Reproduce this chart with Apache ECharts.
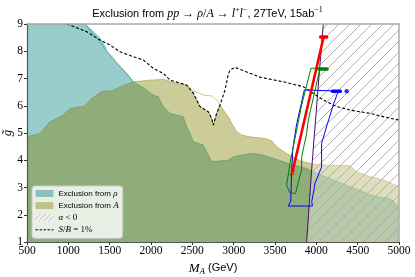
<!DOCTYPE html>
<html><head><meta charset="utf-8">
<script src="https://cdn.jsdelivr.net/npm/echarts@6/dist/echarts.min.js"></script>
<style>html,body{margin:0;padding:0;background:#fff}#c{width:415px;height:277px}</style>
</head><body><div id="c"></div>
<script>
// ---- data ----
const xTicks = [500, 1000, 1500, 2000, 2500, 3000, 3500, 4000, 4500, 5000];
const yTicks = [1, 2, 3, 4, 5, 6, 7, 8, 9];
const rhoExcl = [[500,9],[1200,9],[1282,8.78],[1383,8.48],[1443,8.17],[1464,7.98],[1504,7.86],[1585,7.56],[1706,7.19],[1786,6.88],[1907,6.66],[2028,6.39],[2089,6.33],[2149,5.97],[2230,5.72],[2391,5.6],[2432,5.23],[2472,4.99],[2512,4.68],[2633,4.56],[2674,4.31],[2734,3.95],[2935,4.0],[2996,4.13],[3197,4.25],[3238,4.25],[3358,4.19],[3479,4.07],[3600,3.95],[3681,3.86],[3883,3.70],[4004,3.52],[4205,3.28],[4407,3.03],[4609,2.79],[4730,2.66],[4891,2.6],[5000,2.3]];
const rhoEdge = [[1200,9],[1443,8.1],[1786,6.88]];
const aExcl = [[500,4.86],[657,4.99],[778,5.41],[940,5.66],[1020,5.9],[1201,5.99],[1282,6.27],[1403,6.52],[1524,6.55],[1650,6.72],[1786,6.88],[1988,6.94],[2149,6.97],[2311,6.82],[2432,6.76],[2512,6.46],[2593,5.97],[2693,5.78],[2734,5.54],[2754,5.29],[2794,5.72],[2835,6.03],[2875,5.84],[2935,5.6],[2976,5.36],[3036,5.05],[3097,4.93],[3197,4.86],[3379,4.8],[3460,4.72],[3520,4.5],[3641,4.25],[3802,3.98],[3923,3.89],[4044,3.83],[4407,3.80],[4488,3.58],[4649,3.40],[4810,3.28],[5000,3.03]];
const aEdge = [[2432,6.76],[2492,6.58],[2633,6.39],[2734,6.36],[2814,6.15],[2835,6.03]];
const sbOnePct = [[980,9],[1222,8.72],[1383,8.41],[1504,8.23],[1625,7.98],[1786,7.8],[1907,7.68],[2028,7.37],[2149,7.19],[2230,6.94],[2432,6.76],[2512,6.46],[2593,5.97],[2693,5.78],[2734,5.54],[2754,5.29],[2794,5.72],[2835,6.03],[2895,6.58],[2935,7.15],[2956,7.31],[3016,7.41],[3197,7.19],[3318,7.05],[3600,6.88],[3842,6.70],[4084,6.21],[4246,5.97],[4407,5.84],[4649,5.72],[4891,5.54],[5000,5.48]];
const alphaZero = [[3883,1],[3905,2],[3928,3],[3952,4],[3978,5],[4004,6],[4030,7],[4057,8],[4084,9]];
const alphaNegTop = [[5000,9]];
const blueContour = [[3855,6.58],[4266,6.54],[4205,6.03],[4130,5.3],[4064,4.62],[4064,3.76],[3984,3.15],[3964,2.79],[3944,2.48],[3952,2.32],[3661,2.32],[3690,2.5],[3700,3.5],[3715,4.4],[3760,5.3],[3855,6.58]];
const greenContour = [[3935,7.38],[4044,7.37],[3944,6.03],[3903,5.48],[3883,4.99],[3823,4.13],[3823,3.64],[3782,3.21],[3750,2.79],[3681,2.79],[3641,3.09],[3681,3.89],[3823,6.03],[3935,7.38]];
const redBand = [[3710,3.55],[4088,8.52]];
const redTip = [[3673,3.46],[3722,3.46],[3730,3.64],[3673,3.46]];
const redMarks = [[4052,8.52],[4125,8.52]];
const greenMarks = [[4030,7.35],[4130,7.35]];
const blueMarks = [[4195,6.53],[4290,6.53]];
const blueDot = [[4367,6.53]];

// ---- styling helpers ----
function hatch(w, h, step, color, bg, lw){
  const c = document.createElement('canvas'); c.width = w; c.height = h;
  const g = c.getContext('2d');
  if (bg){ g.fillStyle = bg; g.fillRect(0,0,w,h); }
  g.strokeStyle = color; g.lineWidth = lw;
  g.beginPath();
  for (let k = -h; k < w + h; k += step){ g.moveTo(k, h); g.lineTo(k + h, 0); }
  g.stroke();
  return c;
}
const TEAL = 'rgba(0,128,128,0.4)';
const OLIVE = 'rgba(128,128,0,0.4)';
const plotHatch = {image: hatch(11, 11, 11, '#a8a8a8', 'rgba(255,255,255,0.35)', 0.9), repeat: 'repeat'};
const legHatch = {image: hatch(5, 5, 5, '#b0b0b0', 'rgba(255,255,255,0.4)', 1), repeat: 'repeat'};
const serif = 'Liberation Serif';
const sans = 'Liberation Sans';

const chart = echarts.init(document.getElementById('c'), null, {renderer: 'canvas'});

function lineS(name, data, color, width, extra){
  return Object.assign({name, type:'line', data, symbol:'none', showSymbol:false, silent:true, animation:false,
    color, lineStyle:{color, width}}, extra||{});
}

const legendText = {
  rho: '{t|Exclusion from }{m|ρ}',
  A: '{t|Exclusion from }{m|A}',
  neg: '{m|α}{r| < 0}',
  sb: '{m|S}{r|/}{m|B}{r| = 1%}'
};

chart.setOption({
  animation: false,
  backgroundColor: '#fff',
  title: {
    text: '{s|Exclusion from }{m|pp}{r| → }{m|ρ}{r|/}{m|A}{r| → }{m|l}{sup|+}{m|l}{sup|−}{s|, 27TeV, 15ab}{sup|−1}',
    left: 'center', top: 1,
    textStyle: {
      fontWeight: 'normal',
      rich: {
        s: {fontFamily: sans, fontWeight:'normal', fontSize: 11, color:'#000', lineHeight: 15},
        m: {fontFamily: serif, fontWeight:'normal', fontStyle:'italic', fontSize: 12, color:'#000', lineHeight: 15},
        r: {fontFamily: serif, fontWeight:'normal', fontSize: 12, color:'#000', lineHeight: 15},
        sup: {fontFamily: serif, fontWeight:'normal', fontSize: 8, color:'#000', verticalAlign:'top', lineHeight: 15}
      }
    }
  },
  grid: {left: 27, right: 16, top: 24, bottom: 35, containLabel: false, outerBoundsMode: 'none'},
  legend: {
    orient: 'vertical', left: 32, top: 186, z: 20,
    padding: [3, 4, 4, 3], itemGap: 3.1, itemWidth: 18, itemHeight: 7,
    backgroundColor: 'rgba(255,255,255,0.8)', borderColor: '#cccccc', borderWidth: 1, borderRadius: 3,
    data: [
      {name:'rho', icon:'rect', itemStyle:{color: TEAL, borderWidth:0}},
      {name:'A', icon:'rect', itemStyle:{color: OLIVE, borderWidth:0}},
      {name:'neg', icon:'rect', itemStyle:{color: legHatch, borderWidth:0, opacity: 1}},
      {name:'sb', itemStyle:{opacity: 0}, lineStyle:{width: 1, type: [2.5, 1.5]}}
    ],
    formatter: n => legendText[n],
    textStyle: {
      rich: {
        t: {fontFamily: sans, fontSize: 8, color:'#000', lineHeight: 10},
        m: {fontFamily: serif, fontStyle:'italic', fontSize: 9, color:'#000', lineHeight: 10},
        r: {fontFamily: serif, fontSize: 9, color:'#000', lineHeight: 10}
      }
    }
  },
  xAxis: [{
    type: 'value', min: xTicks[0], max: xTicks[xTicks.length-1], interval: xTicks[1]-xTicks[0], z: 10,
    axisLine: {show: true, onZero: false, lineStyle: {color: '#555', width: 1.2}},
    axisTick: {show: true, length: 3, lineStyle: {color: '#333'}},
    axisLabel: {fontFamily: serif, fontSize: 11.5, color: '#000', margin: 3, formatter: v => String(v),
      showMinLabel: true, showMaxLabel: true, hideOverlap: false},
    splitLine: {show: false},
    name: '{m|M}{sub|A}{s| (GeV)}', nameLocation: 'middle', nameGap: 16,
    nameTextStyle: {rich: {
      m: {fontFamily: serif, fontStyle:'italic', fontSize: 13, color:'#000'},
      sub: {fontFamily: serif, fontStyle:'italic', fontSize: 9, color:'#000', verticalAlign:'bottom', padding:[6,0,0,0]},
      s: {fontFamily: sans, fontSize: 11, color:'#000'}
    }}
  }, {
    type: 'value', position: 'top', min: xTicks[0], max: xTicks[xTicks.length-1], z: 10,
    axisLine: {show: true, onZero: false, lineStyle: {color: '#aaa', width: 1.5}},
    axisTick: {show: false}, axisLabel: {show: false}, splitLine: {show: false}
  }],
  yAxis: [{
    type: 'value', min: yTicks[0], max: yTicks[yTicks.length-1], interval: 1, z: 10,
    axisLine: {show: true, onZero: false, lineStyle: {color: '#555', width: 1.2}},
    axisTick: {show: true, length: 3, lineStyle: {color: '#333'}},
    axisLabel: {fontFamily: serif, fontSize: 11.5, color: '#000', margin: 4,
      showMinLabel: true, showMaxLabel: true, hideOverlap: false},
    splitLine: {show: false},
    name: 'g̃', nameLocation: 'middle', nameGap: 13, nameRotate: 90, nameMoveOverlap: false,
    nameTextStyle: {fontFamily: serif, fontStyle: 'italic', fontSize: 13, color: '#000'}
  }, {
    type: 'value', position: 'right', min: yTicks[0], max: yTicks[yTicks.length-1], z: 10,
    axisLine: {show: true, onZero: false, lineStyle: {color: '#aaa', width: 1.5}},
    axisTick: {show: false}, axisLabel: {show: false}, splitLine: {show: false}
  }],
  series: [
    lineS('rho', rhoExcl, TEAL, 1, {z: 2, areaStyle: {color: TEAL, origin: 'start', opacity: 1}}),
    lineS('rhoEdge', rhoEdge, TEAL, 1, {z: 2}),
    lineS('A', aExcl, OLIVE, 1, {z: 3, areaStyle: {color: OLIVE, origin: 'start', opacity: 1}}),
    lineS('aEdge', aEdge, OLIVE, 1, {z: 3}),
    lineS('neg', alphaZero.concat(alphaNegTop), 'rgba(0,0,0,0)', 0, {z: 4, areaStyle: {color: plotHatch, origin: 'start', opacity: 1}}),
    lineS('sb', sbOnePct, '#000', 1.1, {z: 5, lineStyle: {color: '#000', width: 1.1, type: [3, 2]}}),
    lineS('purple', alphaZero, '#4b0a6e', 1, {z: 6}),
    lineS('blue', blueContour, '#0000ff', 1, {z: 6}),
    lineS('green', greenContour, '#008000', 1, {z: 6}),
    lineS('red', redBand, '#ff0000', 2.6, {z: 7}),
    lineS('redTip', redTip, '#ff0000', 0.8, {z: 7}),
    lineS('redMarks', redMarks, '#ff0000', 3.5, {z: 7, lineStyle:{color:'#ff0000', width:3.5, cap:'round'}}),
    lineS('greenMarks', greenMarks, '#008000', 3.5, {z: 7, lineStyle:{color:'#008000', width:3.5, cap:'round'}}),
    lineS('blueMarks', blueMarks, '#0000ff', 3.5, {z: 7, lineStyle:{color:'#0000ff', width:3.5, cap:'round'}}),
    {name:'blueDot', type:'scatter', data: blueDot, symbol:'circle', symbolSize: 4.5, itemStyle:{color:'#0000ff'}, z: 7, silent: true}
  ]
});
</script>
</body></html>
